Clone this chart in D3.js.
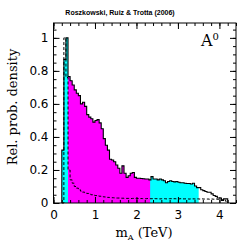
<!DOCTYPE html>
<html>
<head>
<meta charset="utf-8">
<script src="https://cdn.jsdelivr.net/npm/d3@7"></script>
<style>
  html, body { margin: 0; padding: 0; background: #fff; }
  svg { display: block; }
</style>
</head>
<body>
<svg id="chart" width="249" height="249"></svg>
<script>
// histogram bins (TeV), first bin edge and width
const binStart = 0.2;
const binWidth = 0.05;

// posterior pdf (solid), one value per bin
const posterior = [
  0.32, 0.87, 1.00, 0.765, 0.74, 0.715, 0.685, 0.665, 0.65, 0.60,
  0.61, 0.585, 0.535, 0.52, 0.51, 0.49, 0.50, 0.505, 0.485, 0.45,
  0.39, 0.35, 0.32, 0.265, 0.26, 0.25, 0.23, 0.21, 0.18, 0.225,
  0.18, 0.155, 0.165, 0.18, 0.185, 0.155, 0.15, 0.15, 0.148, 0.147,
  0.145, 0.145, 0.14, 0.16, 0.145, 0.145, 0.14, 0.145, 0.14, 0.135,
  0.123, 0.13, 0.135, 0.13, 0.128, 0.13, 0.126, 0.123, 0.123, 0.12,
  0.118, 0.118, 0.115, 0.12, 0.103, 0.093, 0.093, 0.08, 0.075, 0.07,
  0.065, 0.065, 0.055, 0.045, 0.04, 0.03, 0.03, 0.015, 0.025, 0.025
];

// mean quality of fit (dashed)
const meanLike = [
  0, 1.0, 0.76, 0.2, 0.14, 0.12, 0.1, 0.09, 0.08, 0.072,
  0.066, 0.062, 0.058, 0.054, 0.05, 0.047, 0.045, 0.043, 0.041, 0.039,
  0.037, 0.035, 0.034, 0.033, 0.032, 0.031, 0.03, 0.03, 0.029, 0.029,
  0.028, 0.028, 0.028, 0.027, 0.028, 0.027, 0.027, 0.026, 0.027, 0.026,
  0.026, 0.027, 0.026, 0.026, 0.027, 0.026, 0.026, 0.025, 0.026, 0.026,
  0.025, 0.026, 0.026, 0.025, 0.026, 0.025, 0.025, 0.026, 0.025, 0.025,
  0.025, 0.024, 0.025, 0.025, 0.024, 0.025, 0.024, 0.025, 0.024, 0.024,
  0.024, 0.023, 0.024, 0.023, 0.024, 0.022, 0.023, 0.02, 0.018, 0.01
];

// credible intervals
const interval95 = [0.2, 3.5];
const interval68 = [0.35, 2.33];

const xTicks = [0, 1, 2, 3, 4];
const yTicks = [0, 0.2, 0.4, 0.6, 0.8, 1];

const svg = d3.select('#chart');
const x = d3.scaleLinear().domain([0, 4.4]).range([53.5, 236]);
const y = d3.scaleLinear().domain([0, 1.09]).range([203, 23]);

// step outline points
const steps = vals => {
  const pts = [[binStart, 0]];
  vals.forEach((v, i) => {
    const x0 = binStart + i * binWidth;
    pts.push([x0, v], [x0 + binWidth, v]);
  });
  pts.push([binStart + vals.length * binWidth, 0]);
  return pts;
};

const line = d3.line().x(d => x(d[0])).y(d => y(d[1]));
const area = d3.area().x(d => x(d[0])).y0(y(0)).y1(d => y(d[1]));

const defs = svg.append('defs');
const clip = (id, r) =>
  defs.append('clipPath').attr('id', id)
    .append('rect')
    .attr('x', x(r[0])).attr('width', x(r[1]) - x(r[0]))
    .attr('y', 0).attr('height', 249);
clip('c95', interval95);
clip('c68', interval68);

const post = steps(posterior);
svg.append('path').attr('d', area(post)).attr('fill', '#00ffff').attr('clip-path', 'url(#c95)');
svg.append('path').attr('d', area(post)).attr('fill', '#ff00ff').attr('clip-path', 'url(#c68)');

svg.append('path').attr('d', line(steps(meanLike)))
  .attr('fill', 'none').attr('stroke', '#000').attr('stroke-width', 1)
  .attr('stroke-dasharray', '3,2');

svg.append('path').attr('d', line(post))
  .attr('fill', 'none').attr('stroke', '#000').attr('stroke-width', 1.1);

// axes, ticks point inwards on all four sides
const xMinor = d3.range(0, 4.41, 0.2);
const yMinor = d3.range(0, 1.09, 0.05);
const axis = (gen, tr, vals, size, fmt, pad) => {
  const g = svg.append('g').attr('transform', tr)
    .call(gen.tickValues(vals).tickSize(size).tickPadding(pad).tickFormat(fmt));
  g.select('.domain').remove();
  g.selectAll('line').attr('stroke', '#000');
  g.selectAll('text').attr('font-family', 'DejaVu Sans').attr('font-size', 12).attr('fill', '#000');
  return g;
};
axis(d3.axisBottom(x), 'translate(0,203)', xMinor, -3, '', 7);
axis(d3.axisBottom(x), 'translate(0,203)', xTicks, -6, d3.format('d'), 7);
axis(d3.axisTop(x), 'translate(0,23)', xMinor, -3, '', 3);
axis(d3.axisTop(x), 'translate(0,23)', xTicks, -6, '', 3);
axis(d3.axisLeft(y), 'translate(53.5,0)', yMinor, -3, '', 5);
axis(d3.axisLeft(y), 'translate(53.5,0)', yTicks, -6, d => d3.format('')(d), 5);
axis(d3.axisRight(y), 'translate(236,0)', yMinor, -3, '', 3);
axis(d3.axisRight(y), 'translate(236,0)', yTicks, -6, '', 3);

svg.append('rect')
  .attr('x', 53.5).attr('y', 23).attr('width', 236 - 53.5).attr('height', 180)
  .attr('fill', 'none').attr('stroke', '#000').attr('stroke-width', 1);

// labels
svg.append('text').attr('x', 120).attr('y', 14.5).attr('text-anchor', 'middle')
  .attr('font-family', 'Liberation Sans').attr('font-weight', 'bold').attr('font-size', 7)
  .text('Roszkowski, Ruiz & Trotta (2006)');

const xl = svg.append('text').attr('x', 144).attr('y', 237).attr('text-anchor', 'middle')
  .attr('font-family', 'DejaVu Serif').attr('font-size', 13);
xl.append('tspan').text('m');
xl.append('tspan').attr('font-size', 8).attr('dy', 3).text('A');
xl.append('tspan').attr('dy', -3).text(' (TeV)');

svg.append('text').attr('transform', 'translate(17,107) rotate(-90)').attr('text-anchor', 'middle')
  .attr('font-family', 'DejaVu Serif').attr('font-size', 13)
  .text('Rel. prob. density');

const al = svg.append('text').attr('x', 201).attr('y', 46)
  .attr('font-family', 'DejaVu Serif').attr('font-size', 16);
al.append('tspan').text('A');
al.append('tspan').attr('font-size', 10).attr('dy', -6).text('0');
</script>
</body>
</html>
